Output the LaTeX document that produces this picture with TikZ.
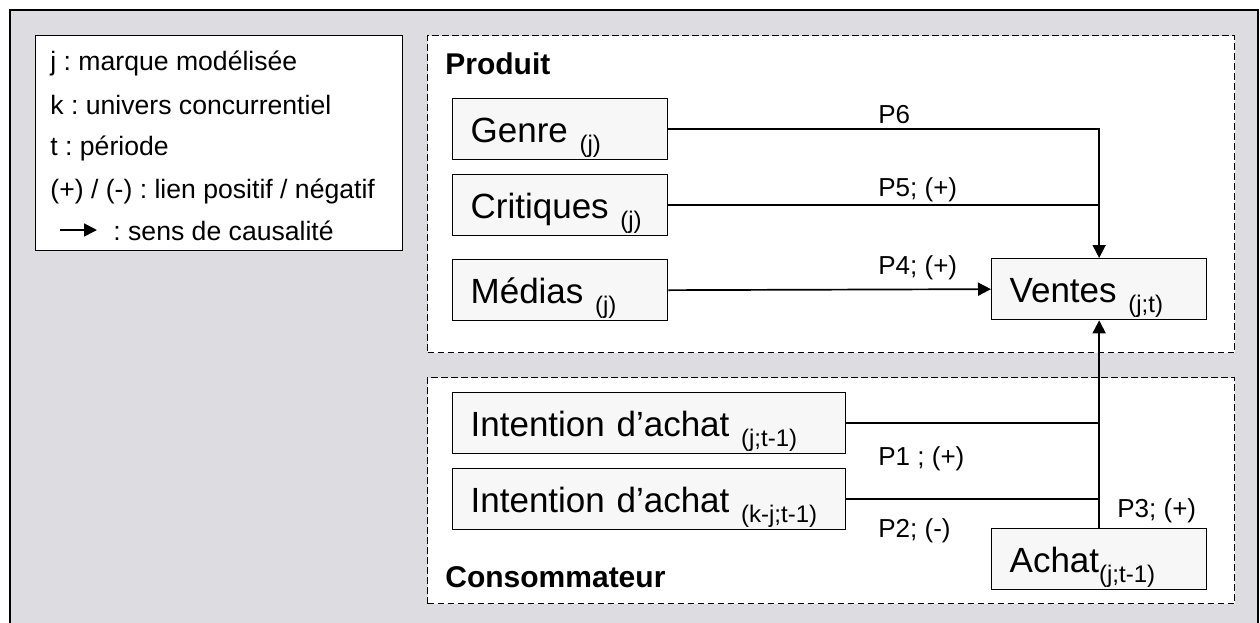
\documentclass[tikz,border=0pt]{standalone}
\usepackage{fontspec}
\setmainfont{Liberation Sans}
\usetikzlibrary{arrows.meta}
\definecolor{bggray}{RGB}{220,220,225}
\definecolor{boxfill}{RGB}{247,247,247}
\frenchspacing
\newcommand{\subtxt}[1]{\raisebox{-5pt}{\fontsize{12}{12}\selectfont #1}}
\tikzset{
  boxnode/.style={draw, fill=boxfill, line width=0.65pt, inner xsep=9pt, inner ysep=0pt,
    text height=17pt, text depth=4pt, minimum height=30.5pt, anchor=north west, align=left,
    font=\fontsize{17.5}{20}\selectfont},
  groupnode/.style={draw, fill=white, line width=0.5pt, dash pattern=on 3.3pt off 1.7pt,
    anchor=north west, inner sep=0pt},
  conn/.style={line width=0.85pt},
  arr/.style={-{Triangle[length=6.5pt,width=6.5pt]}},
  lbl/.style={anchor=base west, inner sep=0pt, font=\fontsize{13}{15}\selectfont},
  legtxt/.style={anchor=base west, inner sep=0pt, font=\fontsize{13.3}{15}\selectfont},
  head/.style={anchor=base west, inner sep=0pt, font=\fontsize{15}{18}\selectfont\bfseries},
}
\begin{document}
\begin{tikzpicture}[x=0.5pt,y=-0.5pt]
\clip (0,0) rectangle (1260,622);
\fill[white] (0,0) rectangle (1260,622);
\draw[fill=bggray, line width=0.8pt] (10,10) rectangle (1258,640);
% legend
\node[draw, fill=white, line width=0.65pt, anchor=north west, inner sep=0pt,
  minimum width=183.5pt, minimum height=107.5pt] (legend) at (35,35) {};
\node[legtxt] (l1) at (50,70) {j : marque modélisée};
\node[legtxt] (l2) at (50,114) {k : univers concurrentiel};
\node[legtxt] (l3) at (50,155) {t : période};
\node[legtxt] (l4) at (50,198) {(+) / (-) : lien positif / négatif};
\coordinate (la) at (60,230);
\coordinate (lb) at (97,230);
\draw[conn, arr] (la) -- (lb);
\node[legtxt] (l5) at (113,240) {: sens de causalité};
% groups
\node[groupnode, minimum width=403.5pt, minimum height=158.5pt] (prod) at (427,35) {};
\node[groupnode, minimum width=403.5pt, minimum height=113pt] (cons) at (427,377) {};
\node[head] (prodlbl) at (445,74) {Produit};
\node[head] (conslbl) at (445,587) {Consommateur};
% boxes
\node[boxnode, text width=89.5pt] (genre) at (452,98) {Genre \subtxt{(j)}};
\node[boxnode, text width=89.5pt] (crit) at (452,174) {Critiques \subtxt{(j)}};
\node[boxnode, text width=89.5pt] (med) at (452,259) {Médias \subtxt{(j)}};
\node[boxnode, text width=178.5pt] (int1) at (452,392) {Intention d’achat \subtxt{(j;t-1)}};
\node[boxnode, text width=178.5pt] (int2) at (452,468) {Intention d’achat \subtxt{(k-j;t-1)}};
\node[boxnode, text width=89.5pt] (ventes) at (991,258) {Ventes \subtxt{(j;t)}};
\node[boxnode, text width=89.5pt] (achat) at (991,528) {Achat\subtxt{(j;t-1)}};
% connectors
\draw[conn, arr] (genre.east) -| (ventes.north);
\draw[conn] (crit.east) -- (crit.east -| ventes.north);
\draw[conn, arr] (med.east) -- (ventes.west);
\draw[conn] (int1.east) -- (int1.east -| achat.north);
\draw[conn] (int2.east) -- (int2.east -| achat.north);
\draw[conn, arr] (achat.north) -- (ventes.south);
% labels
\node[lbl] (p6) at (878,123) {P6};
\node[lbl] (p5) at (878,196) {P5; (+)};
\node[lbl] (p4) at (878,274) {P4; (+)};
\node[lbl] (p1) at (878,465) {P1 ; (+)};
\node[lbl] (p2) at (878,537) {P2; (-)};
\node[lbl] (p3) at (1117,517) {P3; (+)};
\end{tikzpicture}
\end{document}
